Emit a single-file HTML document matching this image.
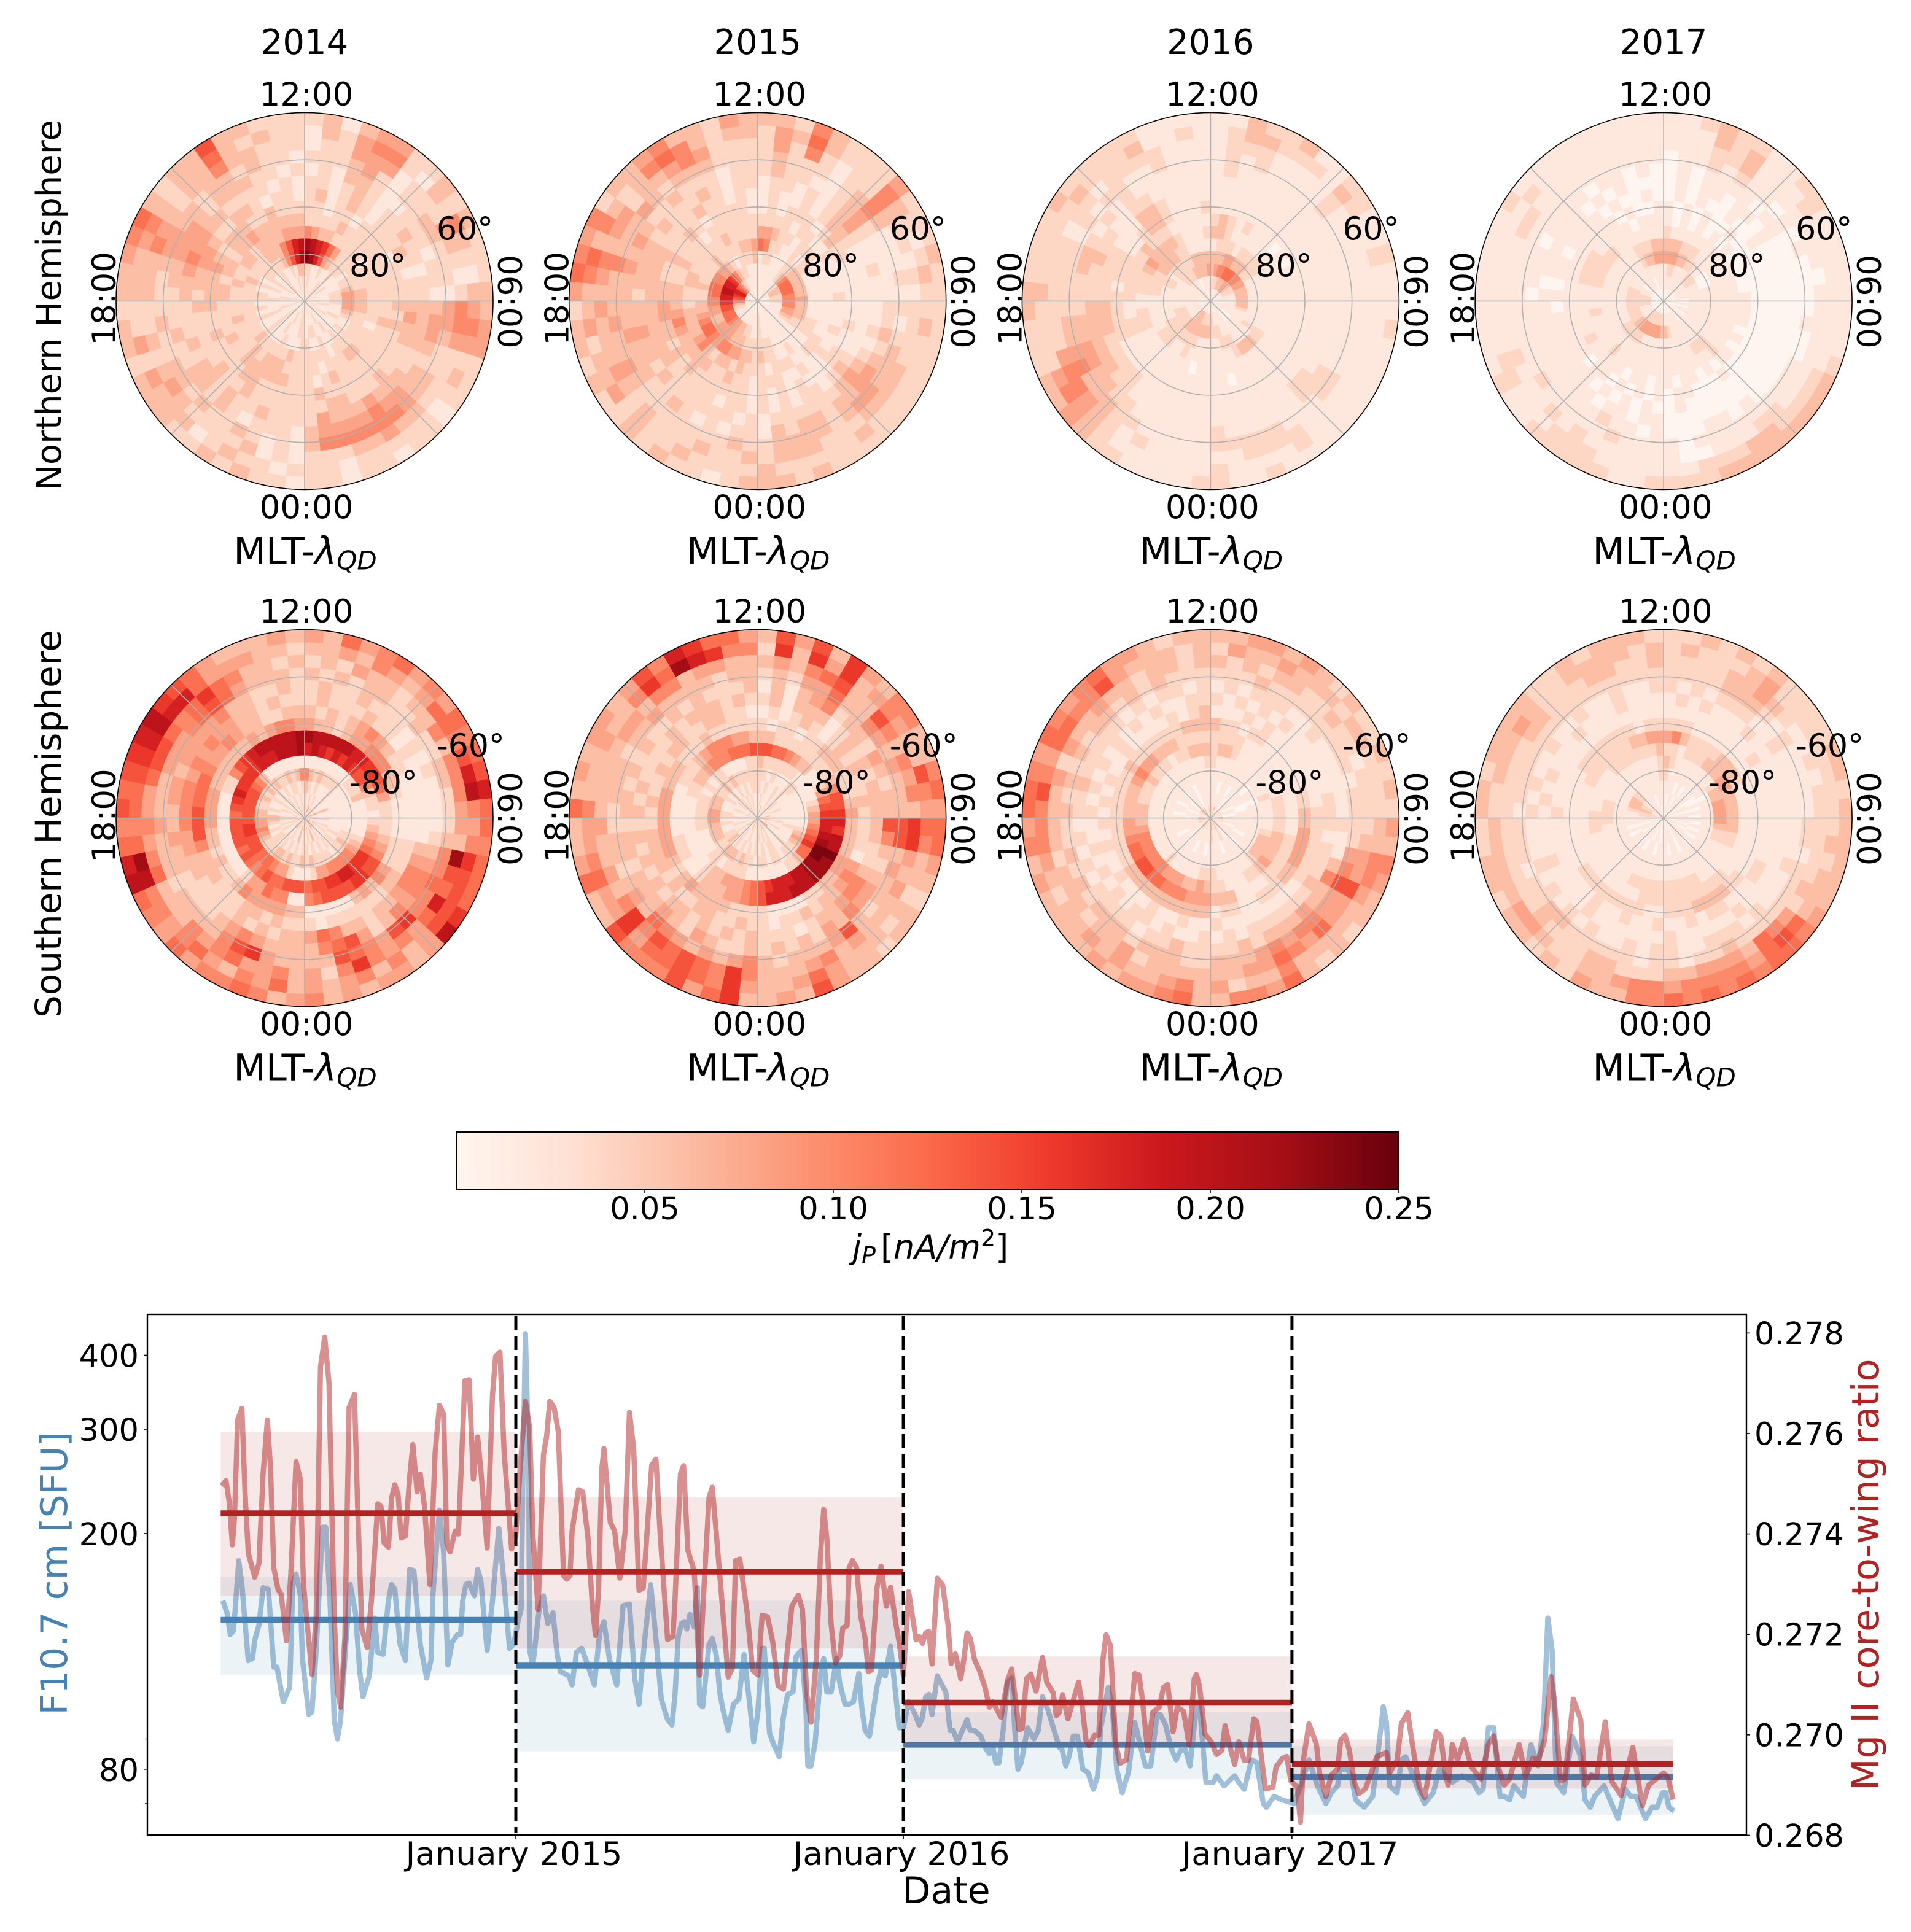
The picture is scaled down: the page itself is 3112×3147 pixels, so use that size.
<!DOCTYPE html>
<html lang="en">
<head>
<meta charset="utf-8">
<title>Pedersen current climatology 2014-2017</title>
<style>
html,body{margin:0;padding:0;background:#fff}
svg{display:block}
text{font-family:"DejaVu Sans","Liberation Sans",sans-serif;fill:#000}
</style>
</head>
<body>
<svg id="fig" xmlns="http://www.w3.org/2000/svg" width="3112" height="3147" viewBox="0 0 3112 3147">
<rect width="3112" height="3147" fill="#fff"/>
<g id="panels"></g>
<text transform="translate(99 497) rotate(-90)" text-anchor="middle" font-size="56">Northern Hemisphere</text>
<text transform="translate(99 1342) rotate(-90)" text-anchor="middle" font-size="58">Southern Hemisphere</text>
<defs><linearGradient id="redsGrad" x1="0" x2="1" y1="0" y2="0"></linearGradient></defs>
<g id="colorbar"></g>
<text x="1388" y="2050" font-size="54"><tspan font-style="italic">j</tspan><tspan font-style="italic" font-size="38" dy="8">P</tspan><tspan dy="-8" dx="8">[</tspan><tspan font-style="italic">nA/m</tspan><tspan font-size="38" dy="-20">2</tspan><tspan dy="20">]</tspan></text>
<g id="timeseries"></g>
<text transform="translate(109 2563) rotate(-90)" text-anchor="middle" font-size="60" style="fill:#4682b4">F10.7 cm [SFU]</text>
<text transform="translate(3059 2565) rotate(-90)" text-anchor="middle" font-size="60.5" style="fill:#b22222">Mg II core-to-wing ratio</text>
<text x="1541" y="3100" text-anchor="middle" font-size="60">Date</text>
</svg>
<script>
const panelYears = ['2014','2015','2016','2017'];
const hourTop = '12:00';
const hourBottom = '00:00';
const hourLeft = '18:00';
const hourRight = '06:00';
const colorbarTicks = [0.05,0.10,0.15,0.20,0.25];
const heatUnit = 0.02;

const heatNorth2014 = [
[1,1,2,1,1,1,2,1,1,1,1,2,1,1,1, 1,1,1,2,1,1,1,1,2,1,1,1,1,2,1, 1,1,2,1,1,1,1,2,1,1,1,1,1,2,1, 1,1,2,1,1,1,1,2,1,1,1,2,1,1,2],
[1,2,1,1,1,1,2,1,1,2,1,1,1,1,1, 1,2,1,1,1,2,1,1,1,1,2,1,1,1,1, 2,2,1,1,2,1,1,1,2,1,1,1,2,1,1, 1,2,1,1,1,2,1,1,2,1,1,1,2,1,2],
[2,2,1,1,2,1,1,2,1,1,1,1,2,2,2, 2,1,1,1,2,1,1,1,1,2,1,1,2,2,1, 2,2,1,1,1,2,1,1,2,1,1,2,1,1,1, 2,1,1,2,1,2,1,1,2,1,1,2,1,3,3],
[12,11,9,7,4,3,2,2,2,1,2,2,3,4,4, 4,4,3,2,1,1,2,1,2,1,1,2,1,1,2, 2,1,1,1,2,1,1,1,2,1,1,2,1,2,1, 2,2,1,2,1,2,2,2,2,2,3,5,7,9,11],
[11,10,9,8,6,4,2,2,2,2,2,2,2,3,3, 3,3,2,2,2,2,2,2,2,2,1,2,2,2,2, 2,2,3,2,2,2,2,2,3,2,2,2,2,2,2, 2,2,2,3,2,2,2,2,3,3,3,5,7,9,10],
[5,4,3,3,2,2,2,2,2,1,2,2,2,2,2, 2,2,2,1,2,2,2,3,3,2,2,2,1,2,2, 2,2,2,3,3,3,2,3,2,2,2,2,3,2,2, 2,2,3,2,2,3,3,2,3,3,3,3,4,4,4],
[2,2,2,2,3,2,2,2,2,2,2,2,2,2,2, 2,2,3,2,2,2,2,2,2,2,2,3,2,1,2, 2,2,3,3,3,3,3,3,2,2,3,2,2,2,2, 3,3,2,3,3,2,3,3,4,3,3,3,3,3,3],
[2,2,1,2,2,1,2,2,2,2,1,2,2,2,2, 3,2,3,2,2,2,2,2,2,2,2,2,2,3,2, 2,2,2,2,2,3,3,2,2,2,2,3,2,2,3, 3,3,3,4,3,2,3,3,3,2,2,3,2,2,2],
[2,3,1,2,3,2,1,2,2,2,3,2,1,2,2, 3,4,3,3,2,2,2,3,2,2,2,3,3,2,2, 2,2,2,2,2,3,2,2,3,2,2,2,2,2,3, 2,3,3,4,4,3,2,2,3,3,2,1,2,2,1],
[2,2,1,2,3,2,1,2,2,3,2,2,1,2,2, 3,3,3,3,2,2,3,3,3,4,3,3,3,4,2, 2,2,2,3,2,2,3,2,3,3,2,3,2,2,2, 3,3,4,5,4,4,3,3,2,2,2,2,1,2,1],
[1,2,1,3,3,2,1,1,2,2,2,1,2,2,1, 3,4,4,3,2,3,3,4,4,5,4,4,4,4,3, 1,2,2,2,1,2,3,2,3,3,2,2,3,2,2, 2,3,3,4,4,4,3,2,3,3,3,2,2,1,2],
[2,2,2,3,4,2,1,2,2,3,3,2,2,2,1, 4,4,3,2,2,3,3,4,5,5,5,5,5,5,3, 1,2,1,2,3,2,2,3,2,3,3,2,2,3,2, 2,2,3,4,4,3,3,2,3,3,2,3,2,2,1],
[1,2,2,4,4,4,1,2,2,2,4,3,2,1,2, 5,5,4,2,2,2,2,3,3,4,3,3,2,2,2, 1,2,1,3,2,2,2,2,3,4,3,2,3,2,2, 3,3,3,5,4,3,2,3,3,5,3,3,2,2,2],
[1,3,2,4,5,5,2,1,3,2,5,3,2,1,3, 4,5,4,2,3,2,1,2,2,2,2,2,1,2,2, 2,1,2,2,3,2,1,3,3,3,4,2,4,2,2, 3,3,3,4,5,3,2,3,3,6,3,2,3,2,2],
[2,3,1,3,4,4,2,2,3,2,3,2,2,2,3, 3,4,4,2,2,2,1,2,2,1,2,2,1,2,2, 1,2,2,3,2,3,2,2,3,3,3,2,3,3,2, 3,3,4,5,6,3,2,3,3,7,3,3,2,2,2]
];
const heatNorth2015 = [
[1,1,1,0,1,1,1,0,1,1,1,1,0,1,2, 1,1,0,1,1,1,1,0,1,1,1,0,1,1,1, 1,1,0,1,1,1,1,0,1,0,1,1,1,1,1, 2,1,1,1,0,1,1,1,0,1,1,1,0,1,1],
[1,1,1,1,1,1,1,1,2,3,3,3,2,2,2, 2,1,1,1,1,1,1,1,1,1,1,1,1,1,2, 1,1,1,1,1,1,1,1,1,1,1,2,2,3,5, 6,7,8,9,9,7,6,5,3,2,1,1,1,1,1],
[1,1,1,1,1,1,2,3,5,6,6,6,6,5,5, 5,5,4,4,3,2,1,1,1,1,1,1,1,1,2, 1,1,2,2,3,3,4,4,5,6,6,6,7,7,8, 9,9,10,10,9,9,8,7,5,3,2,2,1,1,1],
[1,2,2,1,1,1,2,2,3,3,3,3,3,3,4, 3,3,3,3,2,2,1,1,1,1,1,1,2,2,2, 2,2,2,3,3,3,4,4,4,4,3,3,4,4,5, 5,6,6,6,5,5,4,4,3,2,1,2,2,2,3],
[6,5,2,2,1,1,2,1,2,2,1,1,1,1,1, 1,1,1,2,2,2,1,1,1,2,1,1,2,2,3, 2,3,3,4,4,5,5,4,5,6,6,5,4,3,3, 2,2,3,2,2,2,2,3,2,2,2,2,3,3,4],
[4,4,3,2,2,1,2,2,2,1,1,1,1,1,1, 1,1,1,1,1,2,2,2,1,1,2,2,2,1,2, 2,2,3,2,3,3,2,3,5,4,3,3,3,3,2, 2,2,3,3,2,2,2,2,2,2,3,2,2,2,2],
[2,2,2,2,1,2,2,1,1,2,1,1,1,1,2, 1,1,1,2,1,1,2,1,1,2,1,1,2,2,2, 1,2,2,3,2,2,3,3,3,3,3,4,5,4,3, 3,3,2,2,3,2,2,2,1,2,2,2,2,2,2],
[1,2,1,2,2,2,1,2,3,2,2,1,1,1,1, 1,1,2,1,1,2,2,1,1,1,2,1,2,1,2, 1,2,2,2,2,2,2,3,2,3,2,3,3,4,4, 3,3,2,2,3,2,2,3,2,1,2,2,2,2,1],
[1,2,1,1,2,1,2,3,3,2,1,1,1,1,1, 1,1,1,1,1,2,3,2,1,2,2,1,2,1,2, 1,2,2,1,2,2,2,2,2,3,3,3,3,3,3, 3,3,3,3,3,2,2,2,2,3,2,2,1,2,1],
[1,2,2,1,2,1,2,3,4,2,1,1,2,1,1, 1,1,2,1,2,3,4,3,2,2,2,2,2,2,1, 2,1,2,2,2,2,2,2,3,2,3,3,4,3,3, 2,3,3,3,3,2,3,2,2,2,3,2,1,2,2],
[2,3,2,2,1,1,2,3,4,2,1,1,1,1,1, 2,2,3,2,3,4,4,3,3,2,3,3,2,3,1, 2,2,1,2,1,2,3,2,2,3,3,3,4,3,3, 3,3,4,3,4,3,2,2,3,2,2,2,1,2,2],
[2,3,2,2,2,1,2,3,5,3,1,1,1,2,1, 2,1,2,3,3,3,4,4,3,2,3,3,3,3,2, 2,3,2,2,2,2,2,2,2,3,4,3,3,4,3, 3,3,5,3,3,3,4,3,2,3,3,3,2,2,2],
[2,4,2,5,2,1,2,2,5,3,2,2,1,2,1, 2,2,2,2,3,3,3,3,2,2,2,3,3,3,2, 3,2,2,3,2,2,2,3,2,3,4,3,3,3,4, 3,4,5,3,4,4,2,3,3,4,5,4,2,2,2],
[2,4,3,6,3,2,2,2,5,3,2,1,2,3,2, 2,3,2,2,2,2,2,2,3,2,2,2,2,2,3, 2,2,2,2,3,2,2,3,2,4,3,3,2,4,3, 3,5,6,3,5,3,2,3,5,6,5,3,2,3,3],
[3,3,2,5,3,2,2,2,4,2,2,2,3,2,2, 2,2,2,2,2,2,2,2,2,2,2,3,2,3,3, 3,2,1,2,2,3,2,3,2,2,3,2,3,3,2, 4,6,5,4,5,2,3,3,4,5,3,3,2,4,3]
];
const heatNorth2016 = [
[1,1,0,1,1,1,1,0,1,1,1,0,1,1,1, 1,0,1,1,1,1,0,1,1,1,1,0,1,1,1, 1,0,1,1,1,1,1,0,1,1,1,1,0,1,1, 1,1,0,1,1,1,1,0,1,1,1,1,0,1,1],
[1,2,2,3,3,3,4,3,3,2,2,2,1,1,1, 1,1,1,1,1,1,0,1,0,1,1,1,1,1,2, 2,2,2,2,3,3,3,2,1,1,1,1,1,1,1, 1,1,1,1,1,1,1,1,1,1,0,1,1,1,1],
[3,4,5,5,6,6,6,5,5,4,4,3,3,3,3, 3,3,2,1,1,1,1,1,1,1,1,1,2,2,2, 3,3,3,3,3,3,3,3,2,2,2,2,2,1,1, 1,1,1,1,1,1,2,2,2,2,3,3,3,3,4],
[3,3,3,4,4,3,3,3,2,2,1,1,1,1,1, 1,1,1,1,1,2,1,1,1,1,2,2,2,1,1, 1,1,1,2,2,2,2,2,2,2,2,1,1,1,1, 1,1,1,2,2,1,2,2,2,2,2,3,3,3,3],
[1,2,2,2,1,2,2,2,2,2,1,1,1,1,1, 1,1,1,1,1,2,2,3,3,3,2,1,1,1,1, 1,1,1,1,2,1,1,2,2,2,1,1,1,1,1, 1,2,2,2,2,3,3,3,3,2,2,1,1,1,1],
[3,3,2,1,1,1,1,1,1,1,1,1,1,1,1, 1,1,1,1,1,1,1,1,1,1,1,1,1,1,1, 1,1,0,1,1,1,1,1,1,1,1,2,2,2,1, 1,2,2,2,3,4,3,3,3,3,2,1,1,1,2],
[2,3,2,1,2,1,1,1,0,1,0,1,1,1,1, 1,1,1,1,1,1,1,1,1,1,1,1,0,1,1, 1,1,1,1,1,1,1,1,1,1,1,2,2,1,1, 2,2,2,2,2,2,3,2,2,2,1,1,1,1,1],
[1,1,1,1,1,1,1,1,1,1,1,1,1,1,1, 1,1,1,1,1,1,1,1,1,1,1,1,1,1,1, 1,1,1,1,1,1,1,1,1,1,1,2,2,2,2, 2,1,2,2,2,1,1,2,3,3,2,1,1,1,2],
[1,1,1,1,1,1,1,1,1,1,1,1,1,1,1, 1,1,1,1,1,1,1,1,1,1,1,1,1,1,1, 1,1,1,1,1,1,1,2,2,2,2,2,3,3,3, 2,2,2,2,2,1,1,1,3,3,2,1,1,1,1],
[1,1,1,1,1,1,1,1,1,1,1,1,1,1,1, 1,1,1,1,1,1,2,2,1,1,1,1,1,1,1, 1,1,1,1,1,1,1,2,2,3,3,3,3,3,3, 2,2,2,3,2,2,1,1,2,2,1,1,1,1,1],
[1,2,1,1,1,1,1,1,1,1,1,1,1,1,1, 1,1,1,1,1,2,2,2,1,1,1,1,1,1,2, 1,1,1,1,1,1,2,2,3,3,4,4,3,3,2, 2,2,3,3,2,1,2,1,2,1,1,1,1,1,1],
[1,2,1,2,1,1,1,1,2,1,1,1,1,1,1, 1,1,1,1,1,2,2,1,1,1,2,2,2,2,2, 1,1,1,1,1,2,2,3,3,3,5,4,3,3,2, 2,2,2,2,1,2,1,2,2,1,1,2,1,1,1],
[1,2,2,2,1,1,1,1,2,1,1,1,1,1,1, 1,1,1,1,1,1,1,1,1,2,2,2,2,1,1, 1,1,1,1,2,1,2,3,4,5,5,4,2,2,2, 2,2,2,2,1,2,2,1,2,2,2,2,1,1,1],
[1,2,3,3,2,2,2,1,3,2,1,1,2,1,1, 1,1,1,1,1,1,1,1,1,2,1,1,1,1,2, 1,1,1,1,1,1,2,3,4,5,4,2,2,2,2, 3,2,2,2,2,2,3,2,2,2,3,1,1,2,1],
[1,1,3,2,2,3,1,1,2,2,1,1,2,1,1, 1,2,1,1,1,1,1,1,1,1,1,2,1,1,2, 2,1,1,1,1,2,2,3,4,3,3,2,2,2,3, 3,2,2,2,2,3,2,2,2,2,2,1,1,1,1]
];
const heatNorth2017 = [
[0,1,0,0,1,0,0,0,1,0,0,1,0,0,0, 0,1,0,0,0,1,0,0,1,0,0,0,1,0,0, 1,0,0,1,0,0,0,1,0,0,0,1,0,0,0, 1,0,0,0,1,0,0,1,0,0,0,1,0,0,1],
[1,1,1,1,1,1,1,1,1,1,1,1,1,1,0, 0,1,0,1,1,0,1,1,0,1,1,1,1,1,1, 2,2,2,2,2,2,2,2,1,1,1,1,1,2,2, 2,2,2,1,1,1,0,1,1,1,1,0,1,1,1],
[1,2,2,1,1,1,1,2,2,2,1,1,1,1,1, 1,1,1,1,1,1,1,1,1,1,1,1,1,2,3, 3,4,4,4,4,4,4,3,3,2,2,2,2,2,2, 2,2,2,2,1,1,1,1,1,1,1,1,1,1,1],
[4,4,4,3,3,2,2,1,1,0,0,0,1,1,1, 1,1,1,1,1,1,1,1,1,1,1,1,1,1,1, 1,1,1,1,1,2,2,2,2,2,1,1,1,1,1, 1,1,1,1,1,1,1,1,1,1,2,3,3,4,4],
[3,3,3,2,2,2,1,1,1,1,1,1,1,1,1, 1,1,1,1,1,1,1,2,2,2,1,1,1,1,1, 1,1,1,1,1,1,1,1,1,1,1,1,1,1,1, 1,1,1,1,1,1,1,1,1,1,2,2,2,3,3],
[2,1,1,1,1,1,1,1,1,1,1,1,1,1,1, 1,1,1,1,1,1,1,2,1,1,1,1,1,1,1, 1,1,1,1,1,1,1,2,1,1,1,1,1,2,1, 1,1,2,2,2,2,2,2,1,1,1,1,1,1,1],
[1,0,1,0,1,0,1,0,1,0,0,0,0,0,1, 1,1,1,0,1,0,1,1,0,1,0,1,1,0,1, 1,0,1,1,0,1,1,1,1,1,2,1,1,1,1, 1,1,2,2,2,2,1,1,1,1,1,0,1,1,1],
[1,0,1,0,1,0,0,1,0,0,0,0,0,0,0, 0,0,0,0,0,0,0,0,1,0,0,0,1,1,0, 1,0,1,0,1,0,1,1,0,1,1,1,1,1,1, 1,1,1,1,1,1,1,1,1,1,0,1,0,0,1],
[0,1,0,1,0,0,1,0,0,1,0,0,0,0,0, 0,0,0,0,0,0,0,0,0,0,0,0,0,1,0, 0,1,0,1,0,1,0,1,1,1,1,1,1,1,0, 1,0,1,1,0,1,1,1,1,0,1,0,0,1,0],
[0,1,0,1,1,0,1,1,0,1,0,0,0,0,0, 0,0,0,0,0,0,0,0,0,0,0,0,0,0,0, 1,1,0,1,1,0,1,1,1,1,1,1,1,1,1, 1,0,1,1,1,1,1,1,0,1,0,1,0,0,0],
[0,1,0,1,1,1,1,0,1,1,0,0,0,0,0, 0,0,0,0,0,0,0,0,1,0,1,1,0,0,0, 1,0,1,1,2,1,1,1,1,1,1,1,1,1,1, 0,1,1,1,0,1,1,1,1,0,1,1,0,1,0],
[0,1,1,2,1,2,1,1,0,1,0,1,0,0,0, 0,1,0,0,1,1,1,1,1,1,1,1,1,0,1, 1,1,1,2,1,1,1,1,1,2,1,1,1,1,1, 1,1,1,1,1,1,1,1,1,1,1,1,1,1,1],
[1,1,1,2,2,3,1,1,1,1,1,1,1,0,1, 1,1,1,1,1,1,1,2,2,1,1,1,0,0,1, 1,1,1,1,1,2,1,2,1,1,1,2,1,1,1, 1,1,1,1,2,2,1,1,1,1,1,1,1,1,1],
[1,1,1,3,2,3,1,1,1,2,1,1,1,1,1, 1,1,1,1,2,2,2,2,3,3,2,2,2,1,1, 1,1,1,1,2,2,2,1,1,1,2,2,1,1,1, 1,1,1,1,1,1,2,1,1,1,1,1,1,1,1],
[1,1,2,3,2,2,1,1,2,2,1,1,1,1,1, 1,1,1,2,3,3,3,3,3,3,3,3,2,2,2, 2,1,1,2,2,2,2,2,1,1,2,1,1,1,1, 1,1,1,1,1,2,1,1,1,1,1,1,1,1,1]
];
const heatSouth2014 = [
[3,1,2,4,1,2,1,3,1,2,1,4,1,1,2, 3,1,2,1,3,1,2,1,1,4,1,2,1,3,1, 4,1,3,1,2,1,3,1,2,1,1,2,1,3,1, 3,1,2,1,1,3,1,2,1,1,3,1,2,1,2],
[2,1,2,1,2,1,1,2,1,1,1,3,1,1,1, 2,1,1,2,1,2,1,1,1,2,1,3,1,2,1, 2,1,3,1,1,2,1,2,1,1,2,1,2,1,2, 2,1,1,2,1,2,1,1,2,1,2,1,1,2,1],
[3,2,1,2,1,1,1,2,1,1,1,1,1,1,1, 1,1,1,1,2,1,2,1,2,1,2,1,2,1,2, 2,1,2,1,2,1,2,1,2,2,1,2,1,2,3, 3,1,2,1,1,2,1,2,1,2,1,2,2,1,2],
[5,3,2,3,2,2,2,2,1,1,1,1,1,1,1, 1,1,1,2,2,3,2,2,1,2,2,2,2,3,2, 3,2,2,3,2,3,3,2,2,2,3,4,5,4,4, 3,3,2,2,3,2,3,2,3,2,2,3,2,3,5],
[1,1,1,1,1,1,1,1,2,2,2,3,1,1,1, 1,1,1,2,3,4,5,5,5,5,5,4,4,2,1, 1,1,2,4,4,5,6,6,6,7,7,7,8,8,7, 7,7,7,7,7,6,5,3,1,1,1,1,1,1,1],
[9,10,9,8,9,8,9,8,7,7,5,3,2,2,1, 2,3,4,5,6,8,8,8,9,9,8,8,7,7,6, 7,7,7,6,6,7,6,5,6,7,6,7,7,7,7, 6,7,8,9,8,8,8,8,9,9,9,10,10,10,11],
[11,10,10,10,10,10,9,9,8,8,7,6,4,2,2, 2,2,3,4,5,7,7,8,8,7,7,7,7,6,5, 1,1,5,5,6,4,4,2,1,1,1,1,1,1,1, 1,1,1,2,2,5,7,8,9,10,10,10,10,10,11],
[4,3,3,2,3,4,4,5,5,5,3,3,2,1,1, 1,1,2,2,2,4,5,3,4,3,1,1,1,1,1, 3,3,4,4,4,4,5,3,2,2,3,2,3,3,4, 4,4,4,3,3,3,3,3,3,4,3,4,5,5,4],
[3,2,3,2,3,4,5,4,3,2,2,1,1,1,1, 1,1,2,2,2,3,3,2,2,2,2,2,2,1,2, 2,2,3,2,3,3,2,2,2,3,3,3,5,7,7, 7,6,6,6,5,4,4,5,4,3,3,2,2,3,3],
[2,3,2,2,2,3,2,2,1,2,1,1,1,1,1, 1,1,3,4,5,5,4,3,3,2,3,3,5,6,4, 3,3,2,3,2,3,2,2,2,2,3,3,4,4,5, 5,5,5,4,5,4,5,4,4,3,3,2,3,2,2],
[2,3,2,2,3,2,2,2,1,2,1,2,1,1,1, 1,2,3,4,5,5,4,5,3,2,4,7,6,5,3, 3,3,3,4,5,4,3,2,2,2,2,3,3,4,3, 3,4,4,3,4,4,4,4,5,3,3,2,2,3,2],
[3,2,3,2,3,3,2,2,3,2,2,3,3,2,2, 2,3,5,5,6,5,5,8,7,4,5,6,7,3,3, 3,3,4,8,7,5,3,3,3,3,2,3,3,3,4, 3,3,3,4,4,4,5,6,7,6,4,3,3,3,2],
[2,3,2,4,3,3,2,3,3,5,3,5,5,5,4, 4,3,11,7,6,9,6,4,5,4,5,8,5,2,4, 3,5,4,4,6,5,4,5,3,3,3,6,5,4,5, 4,4,6,7,7,6,5,6,8,6,5,3,3,2,3],
[3,3,4,3,5,4,3,4,6,6,5,7,9,10,5, 4,5,8,7,7,7,7,4,3,5,3,5,4,3,4, 3,6,4,5,3,4,6,5,4,5,5,10,11,6,5, 6,6,7,8,9,10,9,9,6,4,4,4,3,3,2],
[4,3,6,4,5,6,4,5,4,6,5,6,7,9,6, 6,5,6,6,6,8,10,4,3,4,4,3,4,3,5, 4,3,5,6,5,5,4,6,4,5,6,10,9,6,5, 7,6,7,8,9,10,8,7,6,4,3,3,3,4,3]
];
const heatSouth2015 = [
[2,1,3,1,1,2,1,3,1,1,2,1,1,3,1, 1,3,1,1,2,1,4,1,1,2,1,3,1,2,1, 4,1,2,1,3,1,1,2,1,3,1,1,2,1,1, 3,1,2,1,2,1,1,2,1,3,1,2,1,1,2],
[1,2,1,1,1,2,1,1,2,1,1,2,1,1,1, 1,2,1,1,2,1,1,2,1,1,2,1,2,1,2, 2,1,1,2,1,1,2,1,1,2,1,1,2,1,1, 2,1,1,2,1,1,2,1,2,1,2,1,2,1,1],
[2,1,2,1,1,2,1,2,1,1,1,1,1,1,1, 1,1,2,1,1,1,1,2,1,1,2,2,1,2,1, 2,1,2,1,2,1,2,1,3,2,2,1,1,2,1, 2,2,1,1,1,2,1,2,1,2,1,2,1,2,2],
[2,2,1,2,1,1,1,2,2,1,1,1,1,1,1, 1,1,2,3,4,3,2,2,2,1,2,2,1,2,2, 1,2,2,3,2,3,3,3,2,2,3,3,3,3,4, 4,4,3,3,3,2,2,3,2,3,2,2,2,2,2],
[3,2,2,2,2,2,2,1,1,1,1,1,2,3,4, 4,5,6,7,8,6,6,3,2,2,1,1,1,1,1, 1,1,2,2,2,2,1,2,2,1,1,1,1,2,2, 2,2,2,2,1,2,1,2,2,1,1,1,1,2,2],
[7,7,6,6,5,4,3,3,1,1,2,4,6,7,8, 9,9,10,11,12,12,11,11,10,10,9,9,9,8,7, 6,5,4,4,4,3,3,2,1,1,1,1,1,1,1, 1,1,1,2,2,3,3,4,5,5,5,6,6,6,7],
[3,3,2,2,2,2,2,2,2,2,3,5,7,7,8, 9,8,10,10,12,11,11,11,10,10,10,9,9,9,7, 6,5,4,4,3,3,3,2,1,1,2,2,2,1,1, 1,1,1,1,2,2,2,3,4,5,5,5,4,4,3],
[2,1,2,2,1,2,2,3,3,3,2,2,2,3,4, 3,3,3,3,4,4,3,3,2,2,1,1,1,1,2, 2,2,2,3,3,3,3,4,3,2,3,4,4,4,4, 4,4,4,3,3,3,2,2,2,3,2,2,2,2,2],
[1,2,1,2,3,2,1,2,3,2,3,2,2,3,2, 2,2,2,1,4,5,4,3,3,2,3,2,2,1,2, 2,3,2,2,3,3,2,2,3,2,3,3,3,3,2, 2,3,2,2,3,2,3,3,2,2,3,3,2,2,1],
[2,3,1,3,3,3,1,2,3,2,3,2,3,3,3, 3,3,2,2,3,5,5,4,3,3,2,1,2,2,2, 3,2,3,2,3,2,3,3,2,3,2,3,2,3,2, 3,2,3,2,2,2,2,3,2,3,3,3,2,3,2],
[1,3,1,3,4,5,2,3,3,2,4,3,2,3,3, 7,5,3,2,3,4,4,5,3,4,2,3,2,3,2, 3,2,2,3,4,2,3,4,3,3,3,2,3,3,2, 3,3,2,3,2,3,2,2,3,2,3,2,2,2,3],
[2,3,2,4,4,6,3,3,5,4,3,4,3,3,3, 7,7,3,4,3,3,2,3,7,4,3,3,3,2,3, 5,4,3,4,3,4,5,6,3,4,3,2,3,3,2, 2,3,3,3,2,3,3,4,3,3,3,3,2,3,3],
[3,4,3,5,6,7,3,3,7,5,3,5,4,5,3, 8,8,4,3,4,3,3,3,4,3,5,4,3,3,3, 5,8,5,6,7,6,7,5,8,5,3,4,3,3,4, 3,3,3,3,3,4,4,3,5,5,3,4,4,3,3],
[2,8,3,8,4,8,3,4,5,4,3,3,7,5,4, 6,5,3,3,2,3,2,3,3,3,4,6,4,3,3, 4,8,5,6,7,6,6,4,8,4,4,6,5,4,4, 5,3,3,3,4,3,3,5,8,6,11,9,8,5,5],
[3,7,4,7,3,8,4,3,5,5,3,3,5,6,4, 6,6,4,3,2,3,3,2,3,3,4,7,3,4,3, 3,8,6,4,7,5,5,5,7,3,3,6,4,3,3, 6,3,4,3,4,4,3,4,7,5,9,8,6,6,4]
];
const heatSouth2016 = [
[2,1,1,3,1,1,1,1,1,1,2,1,1,1,3, 3,1,2,1,1,1,1,2,1,1,3,1,2,1,3, 2,1,1,2,1,1,3,1,1,1,1,2,1,2,3, 3,1,1,1,2,1,3,1,1,3,1,1,1,2,1],
[1,1,1,1,1,1,0,1,1,1,0,1,1,0,1, 1,1,1,0,1,1,1,1,0,1,2,1,1,1,2, 1,1,1,1,1,1,1,1,0,1,1,1,1,1,1, 0,1,1,0,1,1,0,1,1,1,0,1,1,1,1],
[1,1,0,1,1,0,1,0,1,1,1,0,0,1,1, 1,1,1,1,0,1,1,0,1,1,1,0,1,1,1, 1,0,1,1,0,1,1,0,1,1,0,1,1,1,1, 1,0,1,1,0,1,1,0,1,1,0,1,1,1,1],
[1,1,1,1,1,1,1,1,0,1,1,0,1,1,1, 1,1,1,1,1,1,1,1,1,1,1,1,1,1,1, 1,1,1,1,1,1,1,1,1,1,1,1,1,1,1, 1,1,1,1,1,1,1,1,1,1,1,1,1,1,1],
[2,1,1,1,1,1,1,1,1,1,1,2,1,1,1, 1,1,2,3,3,3,3,2,1,1,1,1,1,1,2, 2,2,1,1,1,1,1,2,1,1,1,1,1,1,1, 1,1,1,1,1,1,1,1,1,1,1,1,1,1,2],
[2,3,3,2,1,1,1,1,1,1,1,1,2,2,2, 2,2,3,3,3,3,4,3,2,2,1,1,1,2,2, 3,4,3,3,4,4,4,5,5,5,5,5,5,4,3, 3,3,2,2,2,3,2,2,2,1,2,2,3,3,3],
[2,2,2,2,1,1,1,1,1,1,1,1,1,1,1, 1,1,2,2,2,2,2,2,1,1,1,1,3,3,3, 4,4,4,5,5,5,6,6,7,7,6,6,5,4,4, 3,3,3,3,4,5,4,4,3,3,3,2,2,2,2],
[3,2,2,1,2,2,1,1,1,1,1,1,2,2,3, 3,4,4,4,4,3,3,2,2,2,1,1,2,2,1, 3,3,3,3,3,3,3,3,3,3,2,2,2,2,2, 2,2,2,2,2,3,2,2,2,2,2,2,3,3,3],
[1,1,1,2,1,2,1,1,1,1,1,1,1,1,2, 2,2,2,2,2,2,1,1,1,1,1,1,1,1,2, 1,1,2,1,1,2,1,1,1,2,1,1,2,1,2, 1,2,1,2,1,1,2,1,1,1,1,2,1,2,3],
[2,1,2,1,2,1,2,1,1,1,1,1,1,2,2, 2,1,2,2,2,3,2,2,2,2,2,2,1,2,1, 2,1,1,2,1,2,2,1,2,1,2,1,2,1,1, 2,1,2,1,2,1,2,1,2,1,2,1,1,2,2],
[1,2,1,2,2,2,1,1,2,1,1,1,1,1,1, 2,1,1,3,5,3,3,4,3,3,3,2,3,2,2, 2,2,3,2,2,1,2,2,2,2,1,2,1,2,1, 2,2,3,2,2,2,2,2,1,2,1,2,2,1,2],
[2,2,2,3,2,2,2,2,2,2,2,2,1,2,2, 2,2,4,5,7,4,4,5,5,4,5,4,3,3,3, 2,2,3,3,3,2,3,3,3,2,3,2,3,2,2, 3,2,3,2,3,2,3,3,2,3,2,3,2,2,2],
[3,2,3,2,3,3,2,2,3,2,2,1,2,2,2, 2,3,4,4,7,4,4,6,4,5,6,4,4,3,3, 3,3,3,3,2,4,3,3,2,3,3,3,2,3,3, 3,3,4,2,4,3,3,4,3,3,2,3,3,2,3],
[2,4,3,3,4,3,3,3,2,3,3,2,2,2,2, 3,3,5,5,4,3,3,3,3,3,5,3,3,2,4, 3,5,4,3,3,4,3,4,3,3,2,3,4,5,5, 5,7,5,4,6,6,5,5,7,4,3,3,3,2,3],
[3,3,4,4,3,4,3,2,3,2,2,3,2,3,2, 4,3,5,4,3,3,2,3,2,3,6,4,5,5,3, 3,6,5,4,4,3,4,3,3,3,3,4,3,5,4, 6,6,5,4,6,5,4,5,6,4,4,3,2,3,3]
];
const heatSouth2017 = [
[1,1,1,0,1,1,0,1,1,0,1,1,0,1,1, 1,0,1,1,1,0,1,1,1,0,1,1,0,1,1, 1,1,0,1,1,1,0,1,1,1,0,1,1,0,1, 1,1,2,1,1,1,2,1,1,1,1,1,1,0,1],
[1,0,1,1,0,1,1,0,1,0,1,1,0,1,1, 1,1,0,1,0,1,1,0,1,1,0,1,1,1,1, 1,0,1,1,0,1,1,0,1,0,1,1,0,1,1, 1,2,2,3,2,2,1,1,1,1,1,0,1,1,1],
[1,1,1,0,1,0,1,0,1,0,0,1,0,1,0, 1,0,1,0,1,0,1,0,1,1,0,1,1,0,1, 1,1,0,1,1,0,1,0,1,1,0,1,0,1,1, 1,1,2,3,3,3,2,2,1,1,1,1,1,1,1],
[2,1,1,1,1,1,1,1,1,1,0,1,1,1,1, 1,1,1,1,1,1,1,1,1,1,1,1,1,1,1, 1,1,1,1,1,1,1,1,1,1,1,1,1,1,1, 1,1,1,1,1,1,1,1,1,1,1,1,1,1,2],
[3,2,1,1,1,1,1,1,1,2,3,3,4,4,4, 4,3,2,2,1,1,1,1,1,1,1,1,1,1,1, 1,1,1,1,1,1,1,1,1,1,1,1,1,1,2, 2,2,2,1,1,1,1,1,1,1,1,1,1,1,2],
[2,2,1,2,2,2,3,3,3,4,4,3,3,3,3, 3,3,2,2,1,1,1,1,1,1,2,2,2,2,2, 2,2,2,2,2,1,1,1,1,1,1,1,1,2,2, 2,1,1,1,1,1,1,2,2,2,2,2,2,2,3],
[4,5,3,2,2,2,2,3,3,3,2,1,1,1,1, 1,1,1,1,1,1,1,2,2,2,2,2,2,2,2, 2,2,2,1,1,1,1,1,1,1,1,1,1,1,1, 1,1,1,1,2,2,2,2,2,2,2,3,3,4,4],
[2,2,2,1,1,1,1,1,1,1,1,1,1,1,1, 1,1,1,1,1,1,2,2,3,3,3,3,2,2,2, 1,1,2,2,2,2,2,2,2,2,1,1,1,1,1, 1,1,1,1,1,2,2,2,2,2,2,2,1,2,2],
[1,1,1,1,1,1,1,1,1,2,1,1,1,1,1, 1,1,1,1,2,2,1,1,1,2,2,1,2,1,1, 2,1,1,2,1,1,2,1,1,1,1,1,1,1,1, 2,1,1,1,1,1,1,1,1,1,1,1,1,1,1],
[1,2,1,2,1,1,1,2,1,1,1,1,1,1,1, 1,1,1,1,1,1,1,1,2,1,1,1,1,1,2, 1,1,1,1,1,1,2,1,1,1,1,2,1,1,1, 1,2,1,2,1,1,1,2,1,1,1,2,1,1,1],
[2,1,2,1,2,2,2,1,1,2,1,1,1,1,1, 1,1,1,2,1,1,1,2,1,2,2,2,1,1,2, 2,1,2,1,1,2,1,2,1,2,1,2,1,1,1, 2,1,2,1,1,2,1,1,2,1,1,2,1,1,2],
[2,2,2,2,3,3,3,2,1,2,1,1,1,1,1, 2,2,1,2,2,2,2,2,2,2,3,2,2,1,2, 2,1,2,2,2,2,2,3,3,2,2,1,2,2,2, 1,2,2,2,2,2,2,2,2,2,2,2,2,2,2],
[2,2,2,2,3,3,4,3,2,1,1,2,1,2,2, 2,2,2,2,3,2,4,5,6,3,4,4,4,3,3, 2,2,2,3,3,2,2,2,3,2,2,2,2,2,2, 2,2,2,2,2,3,3,2,2,2,3,3,2,2,3],
[2,3,2,2,2,3,4,2,2,2,2,2,2,2,2, 2,3,2,3,3,3,6,7,6,4,5,5,5,5,4, 5,5,4,3,3,2,2,3,4,4,3,3,3,3,3, 2,2,3,3,3,4,3,2,2,3,3,3,3,2,3],
[2,2,3,2,3,2,3,2,2,2,2,3,3,2,3, 3,3,3,3,3,4,5,6,6,5,6,5,6,5,6, 5,5,3,3,4,2,3,2,3,3,2,3,3,2,2, 3,3,2,3,3,3,3,2,2,3,2,3,3,3,2]
];

const mgDays = [-277,-273,-270,-267,-265,-262,-258,-255,-252,-246,-242,-238,-234,-231,-228,-224,-221,-216,-212,-207,-203,-200,-192,-188,-184,-180,-176,-171,-168,-165,-161,-157,-152,-149,-145,-140,-136,-130,-127,-124,-120,-117,-114,-111,-108,-104,-100,-97,-93,-90,-86,-81,-76,-72,-68,-65,-62,-57,-54,-48,-44,-40,-36,-33,-27,-22,-19,-15,-11,-4,0,4,9,13,16,21,26,29,32,36,40,45,48,51,53,59,63,68,72,75,78,81,83,89,93,98,103,107,111,116,120,125,128,132,136,143,148,150,155,158,162,168,173,178,182,185,189,194,200,204,207,211,218,223,228,232,237,242,247,252,260,266,270,274,278,283,287,290,293,297,301,305,308,312,314,317,321,325,329,332,335,340,344,349,353,358,361,365,370,377,380,383,386,389,392,397,402,407,410,414,419,422,425,428,432,437,442,446,449,457,463,467,470,474,477,481,485,490,496,500,506,509,512,515,520,530,533,537,540,545,549,553,556,560,565,569,575,579,583,587,590,595,600,606,610,614,619,623,629,634,639,641,644,649,655,660,665,668,672,677,681,686,690,695,698,706,713,716,722,726,730,736,739,742,747,754,757,763,768,774,777,781,785,790,794,800,805,811,820,823,830,834,840,845,851,856,862,867,871,876,878,882,887,893,900,909,916,921,926,931,936,945,951,958,963,969,975,978,984,988,996,1003,1007,1013,1018,1026,1032,1041,1052,1061,1067,1081,1085,1090];
const mgValues = [.27496,.27506,.27464,.27378,.27431,.27627,.27650,.27480,.27362,.27314,.27341,.27521,.27627,.27529,.27333,.27290,.27280,.27187,.27317,.27544,.27509,.27300,.27120,.27235,.27733,.27792,.27701,.27235,.27088,.27055,.27194,.27652,.27678,.27455,.27210,.27174,.27268,.27460,.27455,.27382,.27374,.27472,.27498,.27480,.27392,.27396,.27513,.27578,.27484,.27519,.27455,.27299,.27562,.27656,.27639,.27382,.27364,.27406,.27400,.27705,.27707,.27509,.27593,.27529,.27372,.27676,.27754,.27762,.27562,.27370,.27398,.27529,.27664,.27611,.27398,.27250,.27558,.27594,.27664,.27652,.27603,.27317,.27310,.27317,.27406,.27488,.27484,.27390,.27259,.27198,.27292,.27529,.27570,.27423,.27406,.27312,.27406,.27642,.27570,.27288,.27292,.27447,.27537,.27549,.27398,.27190,.27196,.27270,.27519,.27536,.27368,.27326,.27119,.27326,.27473,.27493,.27396,.27270,.27115,.27133,.27347,.27350,.27242,.27129,.27119,.27238,.27235,.27185,.27098,.27091,.27256,.27278,.27249,.27080,.27025,.27150,.27361,.27449,.27389,.27220,.27143,.27157,.27213,.27217,.27333,.27347,.27333,.27235,.27192,.27126,.27129,.27291,.27336,.27256,.27294,.27220,.27185,.27119,.27285,.27189,.27196,.27182,.27203,.27206,.27141,.27312,.27298,.27220,.27142,.27161,.27112,.27150,.27203,.27192,.27150,.27126,.27094,.27055,.27066,.27035,.27108,.27131,.27080,.27010,.27013,.27112,.27121,.27087,.27154,.27105,.27084,.27038,.27045,.27080,.27032,.27105,.27066,.26989,.26978,.26999,.26999,.27150,.27199,.27178,.26982,.26943,.26950,.27031,.27122,.27119,.27073,.26968,.27045,.27055,.27094,.27100,.27006,.27055,.27047,.26981,.27112,.27120,.27096,.27002,.26986,.26961,.26969,.27018,.26981,.26941,.26986,.26949,.26949,.27032,.27026,.26892,.26896,.26936,.26953,.26957,.26908,.26896,.26826,.26953,.27022,.26981,.26924,.26877,.26920,.26932,.26990,.26999,.26969,.26904,.26883,.26892,.26920,.26957,.26965,.26924,.26949,.27022,.27044,.26973,.26896,.26875,.26949,.27006,.26998,.26916,.26900,.26981,.26949,.26990,.26936,.26912,.26981,.26998,.26932,.26900,.26912,.26981,.26916,.26953,.26949,.26990,.27116,.27071,.26908,.26912,.27071,.27030,.26900,.26920,.26916,.27026,.26908,.26879,.26975,.26859,.26900,.26924,.26916,.26871];
const fluxDays = [-276,-272,-269,-266,-264,-261,-258,-252,-248,-246,-242,-238,-233,-228,-225,-219,-213,-210,-207,-203,-201,-195,-192,-188,-182,-179,-175,-171,-168,-165,-160,-156,-151,-147,-144,-138,-133,-130,-125,-120,-117,-114,-109,-104,-100,-96,-90,-84,-80,-78,-72,-68,-64,-60,-55,-52,-50,-47,-44,-39,-36,-33,-27,-22,-16,-11,-6,-2,2,5,7,9,12,13,16,22,26,30,35,39,42,50,53,57,62,67,74,79,83,88,95,101,107,112,116,121,127,132,137,143,147,150,153,156,159,161,164,168,171,173,176,182,185,189,192,195,200,205,210,215,220,224,228,232,234,239,243,248,252,256,261,264,269,273,275,278,282,287,290,293,297,302,305,310,314,318,323,326,329,333,340,344,348,353,358,361,365,370,376,380,383,386,389,392,397,405,409,412,416,425,428,432,438,442,446,449,452,455,459,463,467,470,473,476,482,488,492,496,501,507,512,514,518,521,525,529,534,539,544,548,551,558,562,566,571,577,583,588,593,598,604,607,612,617,622,626,631,635,641,644,650,657,660,667,677,681,686,693,698,704,707,714,722,733,739,747,755,763,768,774,776,783,787,791,799,807,812,817,820,823,830,834,838,844,851,856,864,870,876,882,891,902,907,911,916,921,927,931,936,940,949,956,963,968,972,976,980,987,995,1003,1007,1012,1016,1025,1032,1038,1045,1050,1055,1064,1070,1075,1080,1083,1086,1091];
const fluxValues = [154,147,135,137,151,180,164,122,123,132,140,162,161,119,119,104,110,164,171,158,123,99,100,127,205,205,154,97,90,97,131,164,147,117,106,115,144,126,125,154,164,161,130,122,174,173,130,114,122,158,219,186,120,131,135,135,154,164,165,157,174,167,127,154,204,164,128,130,142,149,273,435,273,127,120,149,157,141,147,125,117,115,111,126,128,121,111,136,142,123,111,151,152,114,103,130,164,133,105,97,95,107,134,141,142,138,146,139,162,103,102,130,133,124,108,101,93,103,105,125,104,89,100,128,128,92,88,84,98,107,108,124,127,104,81,81,89,116,123,108,108,123,112,103,103,104,116,101,93,91,110,118,115,129,106,94,94,104,99,95,98,106,107,99,115,108,93,93,89,97,93,93,91,87,85,88,82,82,93,112,114,93,80,82,94,90,93,106,101,93,87,87,81,84,91,91,80,79,74,78,94,110,100,80,73,79,96,88,81,81,99,99,95,87,83,86,86,81,102,102,76,76,78,75,78,76,74,83,82,70,69,72,71,70,75,83,75,70,73,75,80,80,78,71,69,72,85,102,96,75,73,83,84,79,73,70,73,80,78,76,78,76,73,74,94,94,72,72,71,75,72,88,81,96,144,127,76,73,91,84,71,69,72,75,70,66,74,72,72,66,69,69,73,73,69,68];

const periodStarts = [-278,0,365,731];
const periodEnds = [0,365,731,1090];
const fluxMeans = [143,119.7,88,77.6];
const fluxLows = [115.6,85.8,77,67];
const fluxHighs = [169,154,99.9,87.5];
const mgMeans = [.27441,.27325,.27064,.26942];
const mgLows = [.27277,.27172,.26975,.26893];
const mgHighs = [.27603,.27473,.27156,.26991];
const fluxTicks = [400,300,200,80];
const fluxMinorTicks = [90,70];
const mgTicks = [.268,.270,.272,.274,.276,.278];
const yearDays = [0,365,731];
const yearLabels = ['January 2015','January 2016','January 2017'];

const NS = 'http://www.w3.org/2000/svg';
const redsStops = ['#fff5f0','#fee0d2','#fcbba1','#fc9272','#fb6a4a','#ef3b2c','#cb181d','#a50f15','#67000d'];
function hexRgb(h){return [parseInt(h.slice(1,3),16),parseInt(h.slice(3,5),16),parseInt(h.slice(5,7),16)];}
function redsColor(value){
  const t=Math.max(0,Math.min(1,value/0.25))*(redsStops.length-1);
  const k=Math.min(redsStops.length-2,Math.floor(t));
  const a=hexRgb(redsStops[k]),b=hexRgb(redsStops[k+1]),f=t-k;
  return 'rgb('+[0,1,2].map(c=>Math.round(a[c]+(b[c]-a[c])*f)).join(',')+')';
}
function make(tag,parent,attrs){
  const el=document.createElementNS(NS,tag);
  for(const k in attrs){el.setAttribute(k,attrs[k]);}
  parent.appendChild(el);
  return el;
}

const discRadius = 307;
const radialBins = 15;
const sectorCount = 60;
function radiusOfBin(j){return j*discRadius/radialBins;}
function angleOfSector(i){return i*2*Math.PI/sectorCount;}
function polarX(cx,r,a){return cx+r*Math.sin(a);}
function polarY(cy,r,a){return cy-r*Math.cos(a);}
function panelCenterX(col){return 496+col*737.7;}
function panelCenterY(row){return row===0?490.4:1332.6;}

function drawPanel(rowIndex,colIndex,heat,labels,latLabels){
  const root=document.getElementById('panels');
  const cx=panelCenterX(colIndex),cy=panelCenterY(rowIndex);
  const g=make('g',root,{});
  
  
  heat.forEach((rowVals,j)=>{
    rowVals.forEach((v,i)=>{
      const r0=radiusOfBin(j),r1=radiusOfBin(j+1),a0=angleOfSector(i),a1=angleOfSector(i+1);
      const col=redsColor(v*heatUnit);
      const d='M'+polarX(cx,r0,a0).toFixed(1)+' '+polarY(cy,r0,a0).toFixed(1)+'L'+polarX(cx,r1,a0).toFixed(1)+' '+polarY(cy,r1,a0).toFixed(1)+'A'+r1.toFixed(1)+' '+r1.toFixed(1)+' 0 0 1 '+polarX(cx,r1,a1).toFixed(1)+' '+polarY(cy,r1,a1).toFixed(1)+'L'+polarX(cx,r0,a1).toFixed(1)+' '+polarY(cy,r0,a1).toFixed(1)+'A'+r0.toFixed(1)+' '+r0.toFixed(1)+' 0 0 0 '+polarX(cx,r0,a0).toFixed(1)+' '+polarY(cy,r0,a0).toFixed(1)+'Z';
      const cell=make('path',g,{d:d,fill:col,stroke:col,'stroke-width':0.6});
      
      
    });
  });
  [1,2,3].forEach(k=>{
    const ring=make('circle',g,{cx:cx,cy:cy,r:k*discRadius/4,fill:'none',stroke:'#b0b0b0','stroke-width':1.6});
    
    
  });
  for(let k=0;k<8;k++){
    const a=k*Math.PI/4;
    const spoke=make('line',g,{x1:cx,y1:cy,x2:polarX(cx,discRadius,a),y2:polarY(cy,discRadius,a),stroke:'#b0b0b0','stroke-width':1.6});
    
    
  }
  const edge=make('circle',g,{cx:cx,cy:cy,r:discRadius,fill:'none',stroke:'#000','stroke-width':1.6});
  
  

  const topLabel=make('text',g,{x:cx+3,y:cy-318.5,'text-anchor':'middle','font-size':53});
  topLabel.textContent=hourTop;
  
  
  const bottomLabel=make('text',g,{x:cx+3,y:cy+354,'text-anchor':'middle','font-size':53});
  bottomLabel.textContent=hourBottom;
  
  
  const leftLabel=make('text',g,{transform:'translate('+(cx-308)+' '+(cy-4)+') rotate(-90)','text-anchor':'middle','font-size':53});
  leftLabel.textContent=hourLeft;
  
  
  const rightLabel=make('text',g,{transform:'translate('+(cx+315)+' '+(cy+1)+') rotate(90)','text-anchor':'middle','font-size':53});
  rightLabel.textContent=hourRight;
  
  
  const lat80=make('text',g,{x:cx+73,y:cy-40,'font-size':52});
  lat80.textContent=latLabels[0];
  
  
  const lat60=make('text',g,{x:cx+215,y:cy-100,'font-size':52});
  lat60.textContent=latLabels[1];
  
  
  const axisName=make('text',g,{x:cx+1,y:cy+428,'text-anchor':'middle','font-size':61});
  axisName.innerHTML='MLT-<tspan font-style="italic">\u03bb</tspan><tspan font-style="italic" font-size="42" dy="9">QD</tspan>';
  
  
}

const northLatLabels = ['80\u00b0','60\u00b0'];
const southLatLabels = ['-80\u00b0','-60\u00b0'];
[heatNorth2014,heatNorth2015,heatNorth2016,heatNorth2017].forEach((h,c)=>drawPanel(0,c,h,'north-'+panelYears[c],northLatLabels));
[heatSouth2014,heatSouth2015,heatSouth2016,heatSouth2017].forEach((h,c)=>drawPanel(1,c,h,'south-'+panelYears[c],southLatLabels));
panelYears.forEach((y,c)=>{
  const t=make('text',document.getElementById('panels'),{x:panelCenterX(c),y:88,'text-anchor':'middle','font-size':56});
  t.textContent=y;
  
  
});

const cbLeft=743,cbRight=2278,cbTop=1844,cbBottom=1937;
function colorbarX(v){return cbLeft+(cbRight-cbLeft)*v/0.25;}
const grad=document.getElementById('redsGrad');
redsStops.forEach((c,i)=>{make('stop',grad,{offset:(i/(redsStops.length-1)),'stop-color':c});});
const cbRoot=document.getElementById('colorbar');
const cbRect=make('rect',cbRoot,{x:cbLeft,y:cbTop,width:cbRight-cbLeft,height:cbBottom-cbTop,fill:'url(#redsGrad)',stroke:'#000','stroke-width':2});


colorbarTicks.forEach(v=>{
  const x=colorbarX(v);
  const tick=make('line',cbRoot,{x1:x,x2:x,y1:cbBottom,y2:cbBottom+7,stroke:'#000','stroke-width':1.6});
  
  
  const lab=make('text',cbRoot,{x:x,y:1986,'text-anchor':'middle','font-size':51});
  lab.textContent=v.toFixed(2);
  
  
});

const axLeft=240,axRight=2844,axTop=2141,axBottom=2989;
function xDay(d){return 840+d*1.729;}
function yFlux(v){return 2207.5+419*Math.log(400/v);}
function yMg(m){return 2989.4-(m-0.268)*81800;}
const ts=document.getElementById('timeseries');
function linePoints(days,vals,yf){return days.map((d,i)=>xDay(d).toFixed(1)+','+yf(vals[i]).toFixed(1)).join(' ');}

periodStarts.forEach((s,i)=>{
  const band=make('rect',ts,{x:xDay(s),width:xDay(periodEnds[i])-xDay(s),y:yFlux(fluxHighs[i]),height:yFlux(fluxLows[i])-yFlux(fluxHighs[i]),fill:'#3d8aa8','fill-opacity':0.1});
  
  
});
const fluxLine=make('polyline',ts,{points:linePoints(fluxDays,fluxValues,yFlux),fill:'none',stroke:'#4682b4','stroke-width':8.5,'stroke-opacity':0.5,'stroke-linejoin':'round'});


periodStarts.forEach((s,i)=>{
  const mean=make('line',ts,{x1:xDay(s),x2:xDay(periodEnds[i]),y1:yFlux(fluxMeans[i]),y2:yFlux(fluxMeans[i]),stroke:'#4682b4','stroke-width':9.5});
  
  
});
periodStarts.forEach((s,i)=>{
  const band=make('rect',ts,{x:xDay(s),width:xDay(periodEnds[i])-xDay(s),y:yMg(mgHighs[i]),height:yMg(mgLows[i])-yMg(mgHighs[i]),fill:'#b22222','fill-opacity':0.1});
  
  
});
const mgLine=make('polyline',ts,{points:linePoints(mgDays,mgValues,yMg),fill:'none',stroke:'#b22222','stroke-width':8.5,'stroke-opacity':0.5,'stroke-linejoin':'round'});


periodStarts.forEach((s,i)=>{
  const mean=make('line',ts,{x1:xDay(s),x2:xDay(periodEnds[i]),y1:yMg(mgMeans[i]),y2:yMg(mgMeans[i]),stroke:'#b22222','stroke-width':9.5});
  
  
});
yearDays.forEach(d=>{
  const x=xDay(d);
  const dash=make('line',ts,{x1:x,x2:x,y1:axTop+3,y2:axBottom-3,stroke:'#000','stroke-width':5,'stroke-dasharray':'23 9'});
  
  
});
const frame=make('rect',ts,{x:axLeft,y:axTop,width:axRight-axLeft,height:axBottom-axTop,fill:'none',stroke:'#000','stroke-width':2.4});


yearDays.forEach((d,i)=>{
  const x=xDay(d);
  const tick=make('line',ts,{x1:x,x2:x,y1:axBottom,y2:axBottom+6,stroke:'#000','stroke-width':1.6});
  
  
  const lab=make('text',ts,{x:x-3,y:3038,'text-anchor':'middle','font-size':53});
  lab.textContent=yearLabels[i];
  
  
});
fluxTicks.forEach(v=>{
  const y=yFlux(v);
  const tick=make('line',ts,{x1:axLeft-6,x2:axLeft,y1:y,y2:y,stroke:'#000','stroke-width':1.6});
  
  
  const lab=make('text',ts,{x:226,y:y+19,'text-anchor':'end','font-size':51});
  lab.textContent=String(v);
  
  
});
fluxMinorTicks.forEach(v=>{
  const y=yFlux(v);
  const tick=make('line',ts,{x1:axLeft-4,x2:axLeft,y1:y,y2:y,stroke:'#000','stroke-width':1.2});
  
  
});
mgTicks.forEach(v=>{
  const y=yMg(v);
  const tick=make('line',ts,{x1:axRight,x2:axRight+6,y1:y,y2:y,stroke:'#000','stroke-width':1.6});
  
  
  const lab=make('text',ts,{x:2857,y:y+18.5,'font-size':51});
  lab.textContent=v.toFixed(3);
  
  
});
</script>
</body>
</html>
